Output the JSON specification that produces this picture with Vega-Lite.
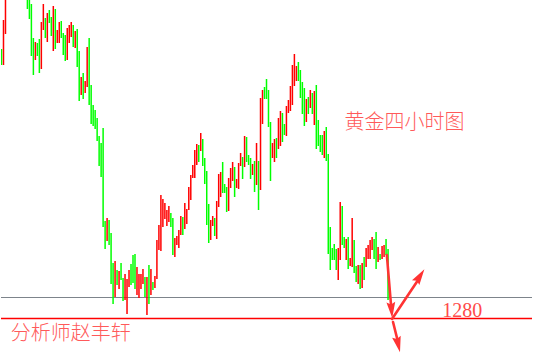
{
  "$schema": "https://vega.github.io/schema/vega-lite/v6.json",
  "width": 533,
  "height": 354,
  "autosize": {"type": "fit", "contains": "padding"},
  "padding": 0,
  "background": "white",
  "config": {"view": {"stroke": null}},
  "datasets": {
    "bars": [
      {"t":0,"d":"down","h":1333.9,"l":1330.7},
      {"t":1,"d":"up","h":1339.7,"l":1330.7},
      {"t":2,"d":"up","h":1345.7,"l":1336.9},
      {"t":13,"d":"down","h":1345.7,"l":1341.9},
      {"t":14,"d":"down","h":1345.7,"l":1339.9},
      {"t":15,"d":"down","h":1342.9,"l":1332.5},
      {"t":16,"d":"down","h":1336.1,"l":1328.7},
      {"t":17,"d":"up","h":1335.3,"l":1331.7},
      {"t":18,"d":"down","h":1335.1,"l":1332.5},
      {"t":19,"d":"down","h":1335.9,"l":1329.1},
      {"t":20,"d":"up","h":1339.3,"l":1329.9},
      {"t":21,"d":"up","h":1342.9,"l":1337.7},
      {"t":22,"d":"down","h":1340.1,"l":1336.1},
      {"t":23,"d":"up","h":1341.1,"l":1335.3},
      {"t":24,"d":"down","h":1341.7,"l":1339.1},
      {"t":25,"d":"down","h":1340.3,"l":1336.5},
      {"t":26,"d":"up","h":1342.5,"l":1333.5},
      {"t":27,"d":"down","h":1341.9,"l":1333.9},
      {"t":28,"d":"up","h":1337.7,"l":1335.1},
      {"t":29,"d":"up","h":1339.3,"l":1335.1},
      {"t":30,"d":"down","h":1339.5,"l":1336.1},
      {"t":31,"d":"down","h":1337.1,"l":1332.7},
      {"t":32,"d":"down","h":1336.7,"l":1331.5},
      {"t":33,"d":"up","h":1338.1,"l":1331.7},
      {"t":34,"d":"up","h":1338.7,"l":1335.1},
      {"t":35,"d":"up","h":1339.3,"l":1336.3},
      {"t":36,"d":"down","h":1338.7,"l":1334.3},
      {"t":37,"d":"up","h":1337.5,"l":1334.1},
      {"t":38,"d":"down","h":1337.9,"l":1330.3},
      {"t":39,"d":"down","h":1333.5,"l":1323.5},
      {"t":40,"d":"up","h":1328.3,"l":1324.7},
      {"t":41,"d":"down","h":1329.1,"l":1323.9},
      {"t":42,"d":"up","h":1327.5,"l":1325.1},
      {"t":43,"d":"up","h":1334.3,"l":1326.3},
      {"t":44,"d":"down","h":1336.1,"l":1322.7},
      {"t":45,"d":"down","h":1326.7,"l":1318.9},
      {"t":46,"d":"down","h":1322.7,"l":1318.5},
      {"t":47,"d":"down","h":1321.7,"l":1317.9},
      {"t":48,"d":"down","h":1320.1,"l":1315.5},
      {"t":49,"d":"down","h":1316.5,"l":1310.5},
      {"t":50,"d":"down","h":1315.1,"l":1308.3},
      {"t":51,"d":"down","h":1318.1,"l":1298.3},
      {"t":52,"d":"down","h":1299.5,"l":1293.9},
      {"t":53,"d":"up","h":1300.1,"l":1295.5},
      {"t":54,"d":"down","h":1299.7,"l":1294.7},
      {"t":55,"d":"down","h":1297.1,"l":1286.9},
      {"t":56,"d":"down","h":1291.1,"l":1282.9},
      {"t":57,"d":"up","h":1291.5,"l":1284.3},
      {"t":58,"d":"down","h":1289.7,"l":1286.7},
      {"t":59,"d":"up","h":1289.5,"l":1285.9},
      {"t":60,"d":"down","h":1291.1,"l":1287.7},
      {"t":61,"d":"down","h":1288.1,"l":1283.5},
      {"t":62,"d":"up","h":1288.9,"l":1283.7},
      {"t":63,"d":"up","h":1287.9,"l":1280.9},
      {"t":64,"d":"up","h":1289.7,"l":1286.3},
      {"t":65,"d":"down","h":1290.9,"l":1286.7},
      {"t":66,"d":"down","h":1292.7,"l":1287.1},
      {"t":67,"d":"down","h":1292.9,"l":1285.9},
      {"t":68,"d":"up","h":1290.3,"l":1284.7},
      {"t":69,"d":"up","h":1288.9,"l":1284.1},
      {"t":70,"d":"up","h":1288.9,"l":1285.9},
      {"t":71,"d":"up","h":1289.9,"l":1286.9},
      {"t":72,"d":"down","h":1288.3,"l":1284.3},
      {"t":73,"d":"up","h":1288.3,"l":1280.7},
      {"t":74,"d":"down","h":1290.7,"l":1282.9},
      {"t":75,"d":"up","h":1289.9,"l":1284.7},
      {"t":76,"d":"down","h":1287.3,"l":1285.7},
      {"t":77,"d":"up","h":1288.5,"l":1286.1},
      {"t":78,"d":"up","h":1295.7,"l":1287.9},
      {"t":79,"d":"up","h":1298.7,"l":1293.7},
      {"t":80,"d":"up","h":1304.7,"l":1293.5},
      {"t":81,"d":"up","h":1303.9,"l":1298.3},
      {"t":82,"d":"up","h":1303.1,"l":1299.9},
      {"t":83,"d":"up","h":1301.7,"l":1298.5},
      {"t":84,"d":"up","h":1302.5,"l":1299.3},
      {"t":85,"d":"down","h":1301.1,"l":1298.3},
      {"t":86,"d":"down","h":1300.1,"l":1292.7},
      {"t":87,"d":"up","h":1296.1,"l":1292.3},
      {"t":88,"d":"up","h":1296.5,"l":1294.7},
      {"t":89,"d":"up","h":1297.7,"l":1294.1},
      {"t":90,"d":"up","h":1300.5,"l":1296.7},
      {"t":91,"d":"down","h":1300.3,"l":1296.7},
      {"t":92,"d":"up","h":1303.1,"l":1297.9},
      {"t":93,"d":"up","h":1301.9,"l":1298.9},
      {"t":94,"d":"up","h":1306.3,"l":1301.7},
      {"t":95,"d":"up","h":1308.7,"l":1303.7},
      {"t":96,"d":"up","h":1310.7,"l":1308.1},
      {"t":97,"d":"up","h":1313.7,"l":1308.1},
      {"t":98,"d":"up","h":1314.9,"l":1310.7},
      {"t":99,"d":"down","h":1314.7,"l":1311.3},
      {"t":100,"d":"up","h":1317.1,"l":1313.5},
      {"t":101,"d":"down","h":1315.9,"l":1310.5},
      {"t":102,"d":"down","h":1312.1,"l":1306.9},
      {"t":103,"d":"down","h":1309.5,"l":1298.7},
      {"t":104,"d":"down","h":1302.9,"l":1295.1},
      {"t":105,"d":"up","h":1299.7,"l":1295.7},
      {"t":106,"d":"up","h":1300.5,"l":1298.5},
      {"t":107,"d":"down","h":1300.1,"l":1296.5},
      {"t":108,"d":"up","h":1303.5,"l":1295.9},
      {"t":109,"d":"up","h":1308.9,"l":1302.3},
      {"t":110,"d":"up","h":1309.3,"l":1304.3},
      {"t":111,"d":"down","h":1311.3,"l":1305.1},
      {"t":112,"d":"down","h":1306.9,"l":1305.1},
      {"t":113,"d":"down","h":1306.3,"l":1301.3},
      {"t":114,"d":"up","h":1308.1,"l":1301.5},
      {"t":115,"d":"up","h":1310.1,"l":1306.1},
      {"t":116,"d":"up","h":1311.3,"l":1307.5},
      {"t":117,"d":"down","h":1310.3,"l":1304.3},
      {"t":118,"d":"up","h":1307.9,"l":1306.1},
      {"t":119,"d":"up","h":1311.1,"l":1305.9},
      {"t":120,"d":"up","h":1313.1,"l":1310.5},
      {"t":121,"d":"down","h":1312.3,"l":1307.9},
      {"t":122,"d":"up","h":1316.5,"l":1310.3},
      {"t":123,"d":"down","h":1316.3,"l":1311.3},
      {"t":124,"d":"down","h":1312.7,"l":1310.7},
      {"t":125,"d":"down","h":1312.1,"l":1307.9},
      {"t":126,"d":"up","h":1310.9,"l":1308.7},
      {"t":127,"d":"down","h":1311.5,"l":1305.3},
      {"t":128,"d":"up","h":1315.1,"l":1306.7},
      {"t":129,"d":"down","h":1311.5,"l":1301.7},
      {"t":130,"d":"up","h":1324.1,"l":1305.7},
      {"t":131,"d":"up","h":1325.7,"l":1318.9},
      {"t":132,"d":"down","h":1326.3,"l":1323.9},
      {"t":133,"d":"down","h":1327.9,"l":1323.9},
      {"t":134,"d":"down","h":1325.7,"l":1318.3},
      {"t":135,"d":"down","h":1319.3,"l":1307.5},
      {"t":136,"d":"up","h":1315.1,"l":1312.1},
      {"t":137,"d":"up","h":1315.9,"l":1311.3},
      {"t":138,"d":"down","h":1316.1,"l":1312.1},
      {"t":139,"d":"up","h":1320.1,"l":1313.9},
      {"t":140,"d":"up","h":1321.5,"l":1314.5},
      {"t":141,"d":"down","h":1321.1,"l":1315.3},
      {"t":142,"d":"down","h":1318.9,"l":1316.7},
      {"t":143,"d":"up","h":1322.5,"l":1316.5},
      {"t":144,"d":"up","h":1323.7,"l":1321.1},
      {"t":145,"d":"up","h":1326.5,"l":1321.5},
      {"t":146,"d":"up","h":1330.7,"l":1322.7},
      {"t":147,"d":"up","h":1332.9,"l":1326.5},
      {"t":148,"d":"up","h":1330.5,"l":1327.5},
      {"t":149,"d":"down","h":1331.3,"l":1327.5},
      {"t":150,"d":"down","h":1329.7,"l":1324.1},
      {"t":151,"d":"down","h":1327.3,"l":1320.9},
      {"t":152,"d":"down","h":1326.1,"l":1318.5},
      {"t":153,"d":"up","h":1323.9,"l":1319.3},
      {"t":154,"d":"down","h":1324.3,"l":1320.9},
      {"t":155,"d":"up","h":1325.7,"l":1322.1},
      {"t":156,"d":"down","h":1325.1,"l":1320.9},
      {"t":157,"d":"up","h":1325.5,"l":1318.7},
      {"t":158,"d":"down","h":1326.7,"l":1313.9},
      {"t":159,"d":"down","h":1319.7,"l":1314.5},
      {"t":160,"d":"down","h":1316.7,"l":1313.3},
      {"t":161,"d":"down","h":1316.7,"l":1312.7},
      {"t":162,"d":"up","h":1317.5,"l":1312.1},
      {"t":163,"d":"down","h":1318.3,"l":1311.5},
      {"t":164,"d":"down","h":1312.9,"l":1292.9},
      {"t":165,"d":"down","h":1298.3,"l":1289.7},
      {"t":166,"d":"down","h":1294.1,"l":1291.7},
      {"t":167,"d":"down","h":1294.9,"l":1291.7},
      {"t":168,"d":"down","h":1293.9,"l":1289.7},
      {"t":169,"d":"up","h":1294.1,"l":1287.7},
      {"t":170,"d":"up","h":1303.3,"l":1291.7},
      {"t":171,"d":"down","h":1302.5,"l":1294.7},
      {"t":172,"d":"down","h":1296.3,"l":1294.1},
      {"t":173,"d":"up","h":1295.9,"l":1291.7},
      {"t":174,"d":"down","h":1296.3,"l":1289.9},
      {"t":175,"d":"up","h":1292.1,"l":1290.5},
      {"t":176,"d":"up","h":1300.1,"l":1290.3},
      {"t":177,"d":"down","h":1295.7,"l":1289.1},
      {"t":178,"d":"down","h":1290.5,"l":1287.3},
      {"t":179,"d":"up","h":1290.7,"l":1286.9},
      {"t":180,"d":"down","h":1290.7,"l":1285.9},
      {"t":181,"d":"up","h":1291.1,"l":1286.1},
      {"t":182,"d":"down","h":1292.3,"l":1287.7},
      {"t":183,"d":"up","h":1294.1,"l":1290.3},
      {"t":184,"d":"up","h":1294.7,"l":1291.9},
      {"t":185,"d":"up","h":1295.7,"l":1291.9},
      {"t":186,"d":"up","h":1296.3,"l":1293.7},
      {"t":187,"d":"down","h":1295.9,"l":1291.9},
      {"t":188,"d":"down","h":1297.3,"l":1289.9},
      {"t":189,"d":"up","h":1294.3,"l":1291.3},
      {"t":190,"d":"down","h":1292.9,"l":1291.7},
      {"t":191,"d":"up","h":1294.5,"l":1291.9},
      {"t":192,"d":"up","h":1294.7,"l":1292.3},
      {"t":193,"d":"down","h":1295.9,"l":1292.7},
      {"t":194,"d":"down","h":1293.9,"l":1283.7}
    ],
    "levels": [
      {"name": "support", "p": 1284.2},
      {"name": "key", "p": 1280}
    ],
    "arrows": [
      {"leg": "drop", "t": 193.4, "p": 1292.7, "t2": 195.5, "p2": 1282.7},
      {"leg": "rebound", "t": 196.0, "p": 1279.9, "t2": 208.75, "p2": 1287.5},
      {"leg": "break", "t": 196.5, "p": 1279.3, "t2": 198.75, "p2": 1275.7}
    ],
    "heads": [
      {"leg": "drop", "t": 195.75, "p": 1281.7, "a": 175},
      {"leg": "rebound", "t": 210.05, "p": 1288.5, "a": 33},
      {"leg": "break", "t": 199.1, "p": 1274.8, "a": 167}
    ]
  },
  "encoding": {
    "x": {"field": "t", "type": "quantitative", "axis": null,
          "scale": {"domain": [-0.25, 266.25], "nice": false, "zero": false}},
    "y": {"field": "p", "type": "quantitative", "axis": null,
          "scale": {"domain": [1272.9, 1343.7], "nice": false, "zero": false}}
  },
  "layer": [
    {
      "data": {"name": "levels"},
      "transform": [{"filter": "datum.name === 'support'"}],
      "mark": {"type": "rule", "stroke": "#7d848b", "strokeWidth": 1.2},
      "encoding": {"x": null}
    },
    {
      "data": {"name": "levels"},
      "transform": [{"filter": "datum.name === 'key'"}],
      "mark": {"type": "rule", "stroke": "#ff0000", "strokeWidth": 1.3},
      "encoding": {"x": null}
    },
    {
      "data": {"name": "bars"},
      "mark": {"type": "rule", "strokeWidth": 1.5, "clip": true},
      "encoding": {
        "y": {"field": "h", "type": "quantitative"},
        "y2": {"field": "l"},
        "color": {"field": "d", "type": "nominal", "legend": null,
                  "scale": {"domain": ["up", "down"], "range": ["#ff0000", "#00ff00"]}}
      }
    },
    {
      "data": {"values": [{"t": 202.25, "p": 1319.1, "label": "黄金四小时图"}]},
      "mark": {"type": "text", "font": "Noto Sans CJK SC", "fontSize": 20, "fontWeight": 300,
               "color": "#ff5a5a", "align": "center", "baseline": "middle"},
      "encoding": {"text": {"field": "label"}}
    },
    {
      "data": {"values": [{"t": 34.75, "p": 1277.0, "label": "分析师赵丰轩"}]},
      "mark": {"type": "text", "font": "Noto Sans CJK SC", "fontSize": 20, "fontWeight": 300,
               "color": "#ff5a5a", "align": "center", "baseline": "middle"},
      "encoding": {"text": {"field": "label"}}
    },
    {
      "data": {"values": [{"t": 221.25, "p": 1280.3, "label": "1280"}]},
      "mark": {"type": "text", "font": "Liberation Serif", "fontSize": 20,
               "color": "#ff4a4a", "align": "left", "baseline": "alphabetic"},
      "encoding": {"text": {"field": "label"}}
    },
    {
      "data": {"name": "arrows"},
      "mark": {"type": "rule", "stroke": "#ff3333", "strokeWidth": 2.6, "strokeCap": "round"},
      "encoding": {
        "x2": {"field": "t2"},
        "y2": {"field": "p2"}
      }
    },
    {
      "data": {"name": "heads"},
      "mark": {"type": "point", "shape": "M0,-1L0.55,1L0,0.7L-0.55,1Z", "filled": true,
               "fill": "#ff3333", "opacity": 1, "strokeWidth": 0, "size": 256},
      "encoding": {
        "angle": {"field": "a", "type": "quantitative", "scale": null}
      }
    }
  ]
}
